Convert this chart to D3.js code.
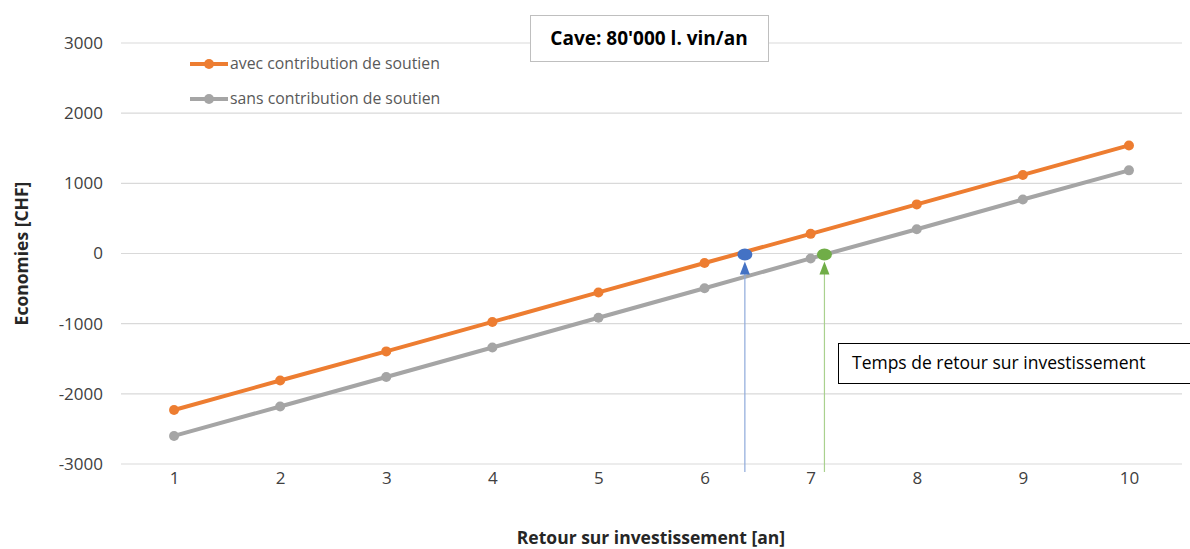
<!DOCTYPE html>
<html><head><meta charset="utf-8">
<script src="https://cdn.jsdelivr.net/npm/d3@7"></script>
<style>body{margin:0;background:#fff}svg{display:block}text{font-family:"Open Sans",Lato,sans-serif}</style>
</head><body><svg id="c" width="1190" height="549"></svg>
<script>
const years = [1,2,3,4,5,6,7,8,9,10];
const avecValues = [-2230,-1810,-1395,-975,-555,-135,280,700,1120,1540];
const sansValues = [-2600,-2180,-1760,-1340,-915,-495,-70,345,770,1185];
const yTicks = [-3000,-2000,-1000,0,1000,2000,3000];
const seriesNames = ["avec contribution de soutien","sans contribution de soutien"];
const paybackAvec = 6.38;
const paybackSans = 7.13;
const titleText = "Cave: 80'000 l. vin/an";
const noteText = "Temps de retour sur investissement";

const svg = d3.select("#c");
const L = 121, R = 1182, T = 43, B = 464;
const x = d3.scaleLinear().domain([0.5,10.5]).range([L,R]);
const y = d3.scaleLinear().domain([-3000,3000]).range([B,T]);
const fmt = d => String(d);

// gridlines
svg.append("g").selectAll("line").data(yTicks).join("line")
  .attr("x1",L).attr("x2",R).attr("y1",d=>y(d)).attr("y2",d=>y(d))
  .attr("stroke","#d9d9d9").attr("stroke-width",1.2);

// y axis labels
const ya = svg.append("g").attr("transform",`translate(${L-18},0)`)
  .call(d3.axisLeft(y).tickValues(yTicks).tickSize(0).tickPadding(0).tickFormat(fmt));
ya.select(".domain").remove();
ya.selectAll("text").attr("font-size",17).attr("fill","#404040").style("font-family","Open Sans");

// x axis labels
const xa = svg.append("g").attr("transform",`translate(0,${B+3})`)
  .call(d3.axisBottom(x).tickValues(years).tickSize(0).tickPadding(0).tickFormat(fmt));
xa.select(".domain").remove();
xa.selectAll("text").attr("font-size",17).attr("fill","#404040").attr("dy","1em").style("font-family","Open Sans");

// axis titles
svg.append("text").attr("transform",`translate(28,${y(0)}) rotate(-90)`).attr("text-anchor","middle")
  .attr("font-size",17.5).attr("font-weight","bold").attr("fill","#262626").text("Economies [CHF]");
svg.append("text").attr("x",651).attr("y",544).attr("text-anchor","middle")
  .attr("font-size",17.5).attr("font-weight","bold").attr("fill","#262626").text("Retour sur investissement [an]");

// series
const line = d3.line().x((d,i)=>x(years[i])).y(d=>y(d));
const series = [{v:sansValues,c:"#a5a5a5"},{v:avecValues,c:"#ed7d31"}];
series.forEach(s=>{
  svg.append("path").attr("d",line(s.v)).attr("fill","none").attr("stroke",s.c).attr("stroke-width",4);
  svg.append("g").selectAll("circle").data(s.v).join("circle")
    .attr("cx",(d,i)=>x(years[i])).attr("cy",d=>y(d)).attr("r",5).attr("fill",s.c);
});

// payback arrows
function arrow(xv,lineC,fillC){
  const px = x(xv);
  svg.append("line").attr("x1",px).attr("x2",px).attr("y1",y(0)+20).attr("y2",B+8)
    .attr("stroke",lineC).attr("stroke-width",1.2);
  svg.append("path").attr("d",`M${px},${y(0)+8} L${px-5},${y(0)+21} L${px+5},${y(0)+21} Z`).attr("fill",fillC);
  svg.append("ellipse").attr("cx",px).attr("cy",y(0)+1).attr("rx",7.5).attr("ry",6).attr("fill",fillC);
}
arrow(paybackAvec,"#8eaadb","#4472c4");
arrow(paybackSans,"#a9d18e","#70ad47");

// legend
const lg = svg.append("g");
[{n:seriesNames[0],c:"#ed7d31",yy:64},{n:seriesNames[1],c:"#a5a5a5",yy:99}].forEach(d=>{
  lg.append("line").attr("x1",190).attr("x2",228).attr("y1",d.yy).attr("y2",d.yy).attr("stroke",d.c).attr("stroke-width",4);
  lg.append("circle").attr("cx",209).attr("cy",d.yy).attr("r",5).attr("fill",d.c);
  lg.append("text").attr("x",230).attr("y",d.yy+5).attr("font-size",15.8).attr("fill","#595959").text(d.n);
});

// title box
svg.append("rect").attr("x",530.5).attr("y",15.5).attr("width",238).attr("height",46)
  .attr("fill","#fff").attr("stroke","#bfbfbf").attr("stroke-width",1);
svg.append("text").attr("x",649).attr("y",45).attr("text-anchor","middle").attr("font-size",19)
  .attr("font-weight","bold").attr("fill","#000").text(titleText);

// note box
svg.append("rect").attr("x",838.5).attr("y",343.5).attr("width",360).attr("height",40)
  .attr("fill","#fff").attr("stroke","#000").attr("stroke-width",1);
svg.append("text").attr("x",852).attr("y",369).attr("font-size",17.5).attr("fill","#000").text(noteText);
</script></body></html>
